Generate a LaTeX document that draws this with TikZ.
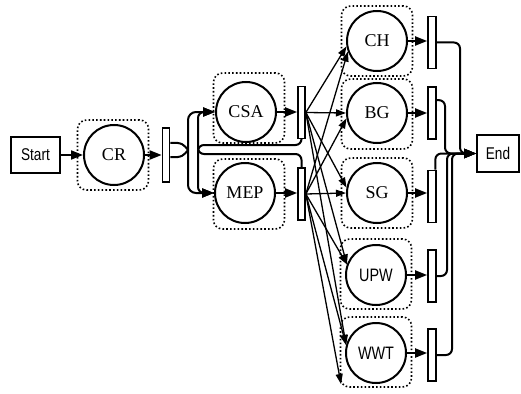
\documentclass[tikz,border=0pt]{standalone}
\usepackage{fontspec}
\setmainfont{Liberation Serif}
\newfontfamily\nsans[FakeStretch=0.8]{Liberation Sans}
\usetikzlibrary{arrows.meta,calc}
\begin{document}
\begin{tikzpicture}[x=1pt,y=-1pt,
 proc/.style={circle,draw,line width=2pt,minimum size=60pt,inner sep=0pt,font=\fontsize{18}{18}\selectfont},
 sproc/.style={proc,font=\nsans\fontsize{18}{18}\selectfont},
 dotbox/.style={draw,line width=1.6pt,dash pattern=on 1.6pt off 2.2pt,rounded corners=9pt,minimum width=71pt,minimum height=70pt,inner sep=0pt},
 syncbar/.style={draw,line width=1.7pt,minimum width=7pt,minimum height=52pt,inner sep=0pt},
 termbox/.style={draw,line width=1.8pt,inner sep=0pt,font=\nsans\fontsize{17}{17}\selectfont},
 conn/.style={line width=2pt,-{Triangle[length=12pt,width=9pt]}},
 fan/.style={line width=1.3pt,-{Triangle[length=10pt,width=7pt]}},
 plain/.style={line width=2pt}]
\useasboundingbox (0,0) rectangle (521,393);

% dotted frames
\node[dotbox] (CRf)  at (113,155) {};
\node[dotbox] (CSAf) at (249,108) {};
\node[dotbox] (MEPf) at (249,194) {};
\node[dotbox] (CHf)  at (377,41) {};
\node[dotbox] (BGf)  at (377,114) {};
\node[dotbox] (SGf)  at (377,193) {};
\node[dotbox] (UPWf) at (376,274) {};
\node[dotbox] (WWTf) at (376,352) {};

% terminals
\node[termbox,minimum width=49pt,minimum height=36pt] (Start) at (35.5,155) {Start};
\node[termbox,minimum width=42pt,minimum height=37pt] (End) at (498,153.5) {End};

% processes
\node[proc] (CR)  at (114,155) {CR};
\node[proc] (CSA) at (246,112) {CSA};
\node[proc] (MEP) at (245,193) {MEP};
\node[proc] (CH)  at (377,41) {CH};
\node[proc] (BG)  at (377,113) {BG};
\node[proc] (SG)  at (377,193) {SG};
\node[sproc] (UPW) at (376,275) {UPW};
\node[sproc] (WWT) at (376,353) {WWT};

% synchronisation bars
\node[syncbar,minimum height=54pt] (bar1) at (166,155) {};
\node[syncbar] (CSAbar) at (301.5,112.5) {};
\node[syncbar] (MEPbar) at (301.5,194) {};
\node[syncbar,minimum width=8pt] (CHbar)  at (432,42.5) {};
\node[syncbar,minimum width=8pt] (BGbar)  at (432,113) {};
\node[syncbar,minimum width=8pt] (SGbar)  at (432,196.5) {};
\node[syncbar,minimum width=8pt] (UPWbar) at (432,276) {};
\node[syncbar,minimum width=8pt] (WWTbar) at (432,355) {};

% start chain
\draw[conn] (Start) -- (CR);
\draw[conn] (CR.east) -- (CR.east -| bar1.west);

% split after CR
\coordinate (lens) at (188,150);
\draw[plain] ($(bar1.east)+(0,-12)$) .. controls +(12,-1) and +(-4,-5) .. (lens);
\draw[plain] ($(bar1.east)+(0,2)$) .. controls +(12,1) and +(-4,5) .. (lens);
\draw[conn,rounded corners=8pt] (lens) |- (CSA.west);
\draw[conn,rounded corners=8pt] (lens) |- (MEP.west);

% feedback between CSA and MEP
\draw[conn,rounded corners=6pt] (CSAbar.south) |- (198,145) |- (MEP.west);
\draw[conn,rounded corners=6pt] (MEPbar.north) |- (198,154) |- (CSA.west);

% into bars
\draw[conn] (CSA.east) -- (CSA.east -| CSAbar.west);
\draw[conn] (MEP.east) -- (MEP.east -| MEPbar.west);
\draw[conn] (CH.east) -- (CH.east -| CHbar.west);
\draw[conn] (BG.east) -- (BG.east -| BGbar.west);
\draw[conn] (SG.east) -- (SG.east -| SGbar.west);
\draw[conn] (UPW.east) -- (UPW.east -| UPWbar.west);
\draw[conn] (WWT.east) -- (WWT.east -| WWTbar.west);

% fan-out
\coordinate (wwtlow) at (341,384);
\draw[fan] (CSAbar.east) -- (CH.190);
\draw[fan] (MEPbar.east) -- (CH.200);
\draw[fan] (CSAbar.east) -- (BG.west);
\draw[fan] (MEPbar.east) -- (BG.190);
\draw[fan] (CSAbar.east) -- (SG.170);
\draw[fan] (MEPbar.east) -- (SG.west);
\draw[fan] (CSAbar.east) -- (UPW.160);
\draw[fan] (MEPbar.east) -- (UPW.160);
\draw[fan] (CSAbar.east) -- (WWT.165);
\draw[fan] (MEPbar.east) -- (WWT.165);
\draw[fan] (MEPbar.east) -- (wwtlow);

% join into End
\draw[conn,rounded corners=6pt] (CHbar.east) -| (460,153.5) -- (End.west);
\draw[conn,rounded corners=6pt] ($(BGbar.north east)+(0,14)$) -| (445,153.5) -- (End.west);
\draw[conn,rounded corners=6pt] ($(SGbar.north east)+(-1.5,0)$) |- (End.west);
\draw[conn,rounded corners=6pt] (UPWbar.east) -| (447,153.5) -- (End.west);
\draw[conn,rounded corners=6pt] (WWTbar.east) -| (452,153.5) -- (End.west);
\end{tikzpicture}
\end{document}
